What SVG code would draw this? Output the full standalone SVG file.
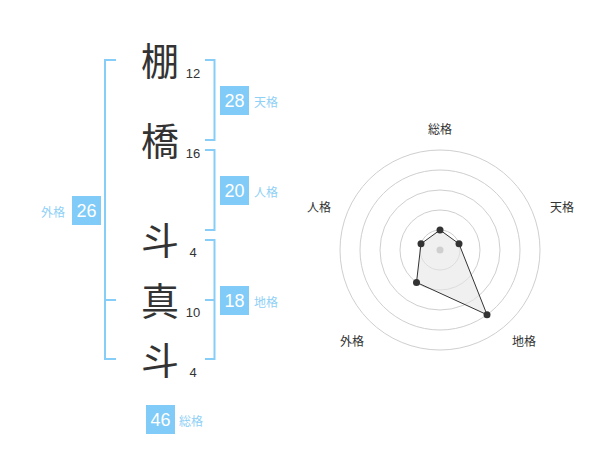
<svg xmlns="http://www.w3.org/2000/svg" width="600" height="470" viewBox="0 0 600 470">
<style>
.kanji{font-family:"Noto Sans CJK JP","Noto Sans CJK SC",sans-serif;font-size:38px;fill:#333;text-anchor:middle}
.stroke{font-family:"Liberation Sans",Arial,sans-serif;font-size:13px;fill:#333;text-anchor:middle}
.box{fill:#80cbf7}
.boxnum{font-family:"Liberation Sans",Arial,sans-serif;font-size:18px;fill:#fff;text-anchor:middle}
.blabel{font-family:"Noto Sans CJK JP","Noto Sans CJK SC",sans-serif;font-size:12px;fill:#8fd0f6}
.br{fill:none;stroke:#86cdf7;stroke-width:2}
.ring{fill:none;stroke:#cfcfcf;stroke-width:1}
.rlabel{font-family:"Noto Sans CJK JP","Noto Sans CJK SC",sans-serif;font-size:12px;fill:#333;text-anchor:middle}
.pt{fill:#333}
</style>
<rect width="600" height="470" fill="#fff"/>
<g id="chars">
<text class="kanji" x="160" y="75">棚</text>
<text class="stroke" x="193" y="78">12</text>
<text class="kanji" x="160" y="155">橋</text>
<text class="stroke" x="193" y="158">16</text>
<text class="kanji" x="160" y="254">斗</text>
<text class="stroke" x="193" y="257">4</text>
<text class="kanji" x="160" y="315">真</text>
<text class="stroke" x="193" y="317">10</text>
<text class="kanji" x="160" y="374">斗</text>
<text class="stroke" x="193" y="377">4</text>
</g>
<g id="connectors">
<path class="br" d="M116,60 H105 V359 H116 M105,300 H116"/>
<path class="br" d="M205,60 H214.5 V140 H205"/>
<path class="br" d="M205,150 H214.5 V230 H205"/>
<path class="br" d="M205,240 H214.5 V359 H205 M205,300 H214.5"/>
</g>
<g id="tenkaku">
<rect class="box" x="220" y="86" width="29" height="29"/>
<text class="boxnum" x="234.5" y="107">28</text>
<text class="blabel" x="254" y="107">天格</text>
</g>
<g id="jinkaku">
<rect class="box" x="220" y="176" width="29" height="29"/>
<text class="boxnum" x="234.5" y="197">20</text>
<text class="blabel" x="254" y="197">人格</text>
</g>
<g id="chikaku">
<rect class="box" x="220" y="286" width="29" height="29"/>
<text class="boxnum" x="234.5" y="307">18</text>
<text class="blabel" x="254" y="307">地格</text>
</g>
<g id="gaikaku">
<rect class="box" x="72" y="196" width="29" height="29"/>
<text class="boxnum" x="86.5" y="217">26</text>
<text class="blabel" x="41" y="217">外格</text>
</g>
<g id="soukaku">
<rect class="box" x="146" y="405" width="29" height="29"/>
<text class="boxnum" x="160.5" y="426">46</text>
<text class="blabel" x="179" y="426">総格</text>
</g>
<g id="radar">
<circle class="ring" cx="440" cy="250" r="20"/>
<circle class="ring" cx="440" cy="250" r="40"/>
<circle class="ring" cx="440" cy="250" r="60"/>
<circle class="ring" cx="440" cy="250" r="80"/>
<circle class="ring" cx="440" cy="250" r="100"/>
<polygon points="440,230 459,243.8 487,314.7 416.5,282.4 421,243.8" fill="#e6e6e6" fill-opacity="0.6" stroke="#333" stroke-width="1"/>
<circle cx="440" cy="250" r="3.5" fill="#cfcfcf"/>
<circle class="pt" cx="440" cy="230" r="3.5"/>
<circle class="pt" cx="459" cy="243.8" r="3.5"/>
<circle class="pt" cx="487" cy="314.7" r="3.5"/>
<circle class="pt" cx="416.5" cy="282.4" r="3.5"/>
<circle class="pt" cx="421" cy="243.8" r="3.5"/>
<text class="rlabel" x="440" y="134">総格</text>
<text class="rlabel" x="562" y="212">天格</text>
<text class="rlabel" x="524" y="346">地格</text>
<text class="rlabel" x="352" y="346">外格</text>
<text class="rlabel" x="319" y="212">人格</text>
</g>
</svg>
